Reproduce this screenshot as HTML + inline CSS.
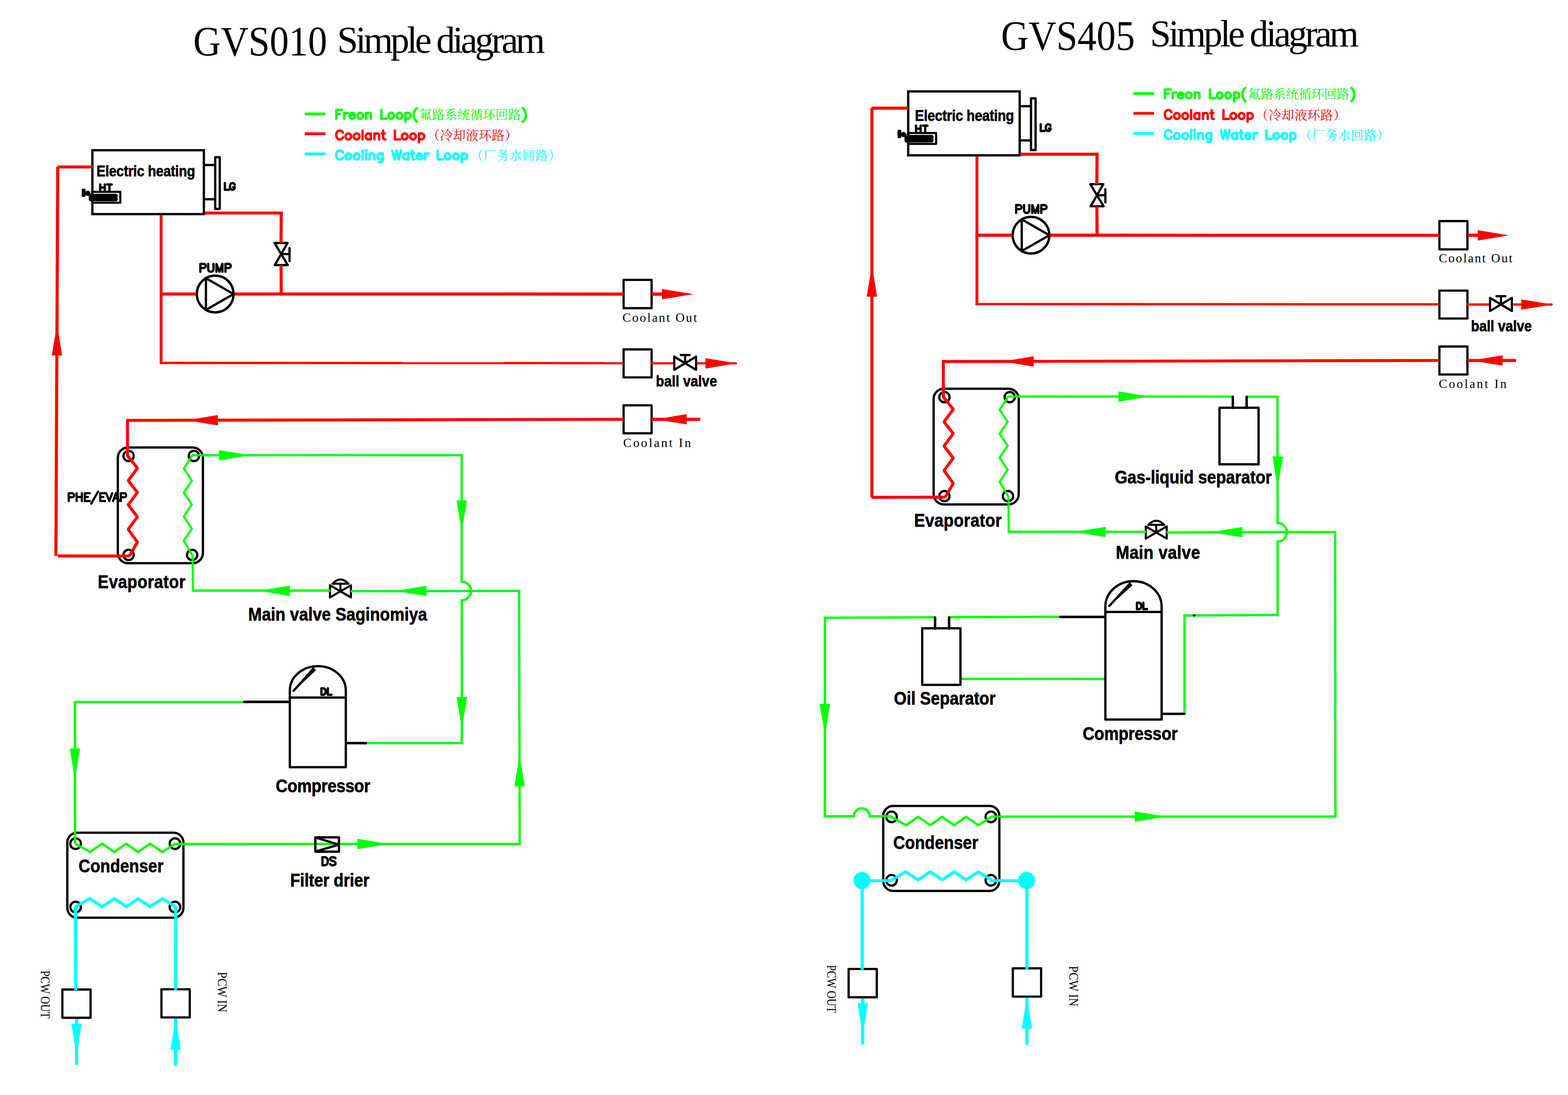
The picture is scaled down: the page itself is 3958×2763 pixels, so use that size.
<!DOCTYPE html>
<html><head><meta charset="utf-8"><title>GVS diagrams</title>
<style>
html,body{margin:0;padding:0;background:#fff}
svg{display:block}
.sb{font-family:"Liberation Sans",sans-serif;font-weight:bold;fill:#000;stroke:#000;stroke-width:0.9px;stroke-linejoin:round}
.sf{font-family:"Liberation Serif",serif;fill:#000}
.cj{font-family:"Liberation Serif","Noto Serif CJK SC",serif}
</style></head><body>
<svg width="3958" height="2763" viewBox="0 0 3958 2763">
<rect width="3958" height="2763" fill="#fff"/>
<defs>
<g id="cool"><rect x="233.2" y="379.1" width="281.4" height="161.2" rx="0" fill="none" stroke="#000" stroke-width="5.8" stroke-linejoin="miter"/>
<path d="M517,416.4 L542,416.4" fill="none" stroke="#000" stroke-width="5.8" stroke-linecap="butt" stroke-linejoin="miter"/>
<path d="M517,502.7 L542,502.7" fill="none" stroke="#000" stroke-width="5.8" stroke-linecap="butt" stroke-linejoin="miter"/>
<rect x="543.2" y="396.6" width="11.5" height="130.5" rx="0" fill="#fff" stroke="#000" stroke-width="5.8" stroke-linejoin="round"/>
<path d="M567.7,462.1 L567.7,478.9M567.7,478.9 L577.3,478.9M592.5,466.1 L591.7,464.5 L590.1,462.9 L588.5,462.1 L585.3,462.1 L583.7,462.9 L582.1,464.5 L581.3,466.1 L580.5,468.5 L580.5,472.5 L581.3,474.9 L582.1,476.5 L583.7,478.1 L585.3,478.9 L588.5,478.9 L590.1,478.1 L591.7,476.5 L592.5,474.9 L592.5,472.5M588.5,472.5 L592.5,472.5" fill="none" stroke="#000" stroke-width="5.8" stroke-linecap="round" stroke-linejoin="round"/>
<path d="M253.0,465.4 L253.0,482.0M264.5,465.4 L264.5,482.0M253.0,473.3 L264.5,473.3" fill="none" stroke="#000" stroke-width="5.8" stroke-linecap="round" stroke-linejoin="round"/>
<path d="M276.2,465.4 L276.2,482.0M270.7,465.4 L281.8,465.4" fill="none" stroke="#000" stroke-width="5.8" stroke-linecap="round" stroke-linejoin="round"/>
<rect x="232.6" y="484.1" width="71.1" height="27.4" rx="0" fill="none" stroke="#000" stroke-width="5.2" stroke-linejoin="round"/>
<rect x="224" y="489" width="73.5" height="10.5" rx="5" fill="#000"/><rect x="224" y="497.5" width="73.5" height="10.5" rx="5" fill="#000"/><rect x="224" y="491" width="20" height="14" rx="2" fill="#000"/>
<rect x="206.3" y="475.9" width="9.6" height="21" rx="3" fill="#000"/><circle cx="221.5" cy="487.7" r="6.6" fill="#000"/>
<circle cx="543.2" cy="741.9" r="46.3" fill="none" stroke="#000" stroke-width="6"/>
<path d="M519.8,701.9 V781.9 L589.5,741.9 Z" fill="none" stroke="#000" stroke-width="5.8" stroke-linecap="round" stroke-linejoin="round"/>
<path d="M505.8,665.9 L505.8,685.7M505.8,665.9 L514.3,665.9 L517.1,666.8 L518.1,667.7 L519.0,669.6 L519.0,672.5 L518.1,674.4 L517.1,675.3 L514.3,676.2 L505.8,676.2M525.6,665.9 L525.6,680.0 L526.6,682.9 L528.5,684.8 L531.3,685.7 L533.2,685.7 L536.0,684.8 L537.9,682.9 L538.9,680.0 L538.9,665.9M546.4,665.9 L546.4,685.7M546.4,665.9 L554.0,685.7M561.5,665.9 L554.0,685.7M561.5,665.9 L561.5,685.7M569.1,665.9 L569.1,685.7M569.1,665.9 L577.6,665.9 L580.4,666.8 L581.4,667.7 L582.3,669.6 L582.3,672.5 L581.4,674.4 L580.4,675.3 L577.6,676.2 L569.1,676.2" fill="none" stroke="#000" stroke-width="5.8" stroke-linecap="round" stroke-linejoin="round"/>
<rect x="1574.1" y="706.3" width="70.7" height="71.3" rx="0" fill="#fff" stroke="#000" stroke-width="5.6" stroke-linejoin="round"/>
<rect x="1574.1" y="881.6" width="70.7" height="70.6" rx="0" fill="#fff" stroke="#000" stroke-width="5.6" stroke-linejoin="round"/>
<rect x="1574.1" y="1022.8" width="70.7" height="70.6" rx="0" fill="#fff" stroke="#000" stroke-width="5.6" stroke-linejoin="round"/>
<rect x="297.4" y="1129.2" width="214.8" height="292" rx="26" fill="none" stroke="#000" stroke-width="5.8" stroke-linejoin="round"/>
<circle cx="324.6" cy="1150.5" r="13" fill="none" stroke="#000" stroke-width="5.6"/>
<circle cx="489.5" cy="1150.5" r="13" fill="none" stroke="#000" stroke-width="5.6"/>
<circle cx="324.6" cy="1400.3" r="13" fill="none" stroke="#000" stroke-width="5.6"/>
<circle cx="485" cy="1400.3" r="13" fill="none" stroke="#000" stroke-width="5.6"/>
<path d="M693,613.1 H725.8 L693.7,668.9 H726.4 Z M709.4,641 H730.9 M730.9,625.9 V658.9" fill="none" stroke="#000" stroke-width="5.6" stroke-linecap="round" stroke-linejoin="round"/>
<path d="M406.7,543.2 L406.7,918.5" fill="none" stroke="#ff0000" stroke-width="7.2" stroke-linecap="butt" stroke-linejoin="miter"/>
<path d="M403.2,741.9 L494.6,741.9" fill="none" stroke="#ff0000" stroke-width="7.8" stroke-linecap="butt" stroke-linejoin="miter"/>
<path d="M592,741.9 L1574,742" fill="none" stroke="#ff0000" stroke-width="7.8" stroke-linecap="butt" stroke-linejoin="miter"/>
<path d="M1645,742 L1700,742" fill="none" stroke="#ff0000" stroke-width="8.4" stroke-linecap="butt" stroke-linejoin="miter"/>
<polygon points="1750,742.3 1671,729.2 1671,755.4" fill="#ff0000"/>
<path d="M517.4,537.5 L713.8,537.5" fill="none" stroke="#ff0000" stroke-width="7.6" stroke-linecap="butt" stroke-linejoin="miter"/>
<path d="M710,534 L709.4,613" fill="none" stroke="#ff0000" stroke-width="7.8" stroke-linecap="butt" stroke-linejoin="miter"/>
<path d="M709.5,669 L710,745.6" fill="none" stroke="#ff0000" stroke-width="7.8" stroke-linecap="butt" stroke-linejoin="miter"/>
<path d="M403.2,915.7 L1574,916.4" fill="none" stroke="#ff0000" stroke-width="5.8" stroke-linecap="butt" stroke-linejoin="miter"/>
<path d="M1645,916.8 L1702,916.8" fill="none" stroke="#ff0000" stroke-width="5.6" stroke-linecap="round" stroke-linejoin="miter"/>
<path d="M1757,916.8 L1857.4,916.8" fill="none" stroke="#ff0000" stroke-width="5.6" stroke-linecap="round" stroke-linejoin="miter"/>
<polygon points="1859.7,916.8 1780.7,903.7 1780.7,929.9" fill="#ff0000"/>
<path d="M318.1,1060.7 L1574,1058" fill="none" stroke="#ff0000" stroke-width="7.4" stroke-linecap="butt" stroke-linejoin="miter"/>
<path d="M1645,1058 L1767.6,1058" fill="none" stroke="#ff0000" stroke-width="7.8" stroke-linecap="butt" stroke-linejoin="miter"/>
<polygon points="471,1060.4 550,1073.5 550,1047.3" fill="#ff0000"/>
<polygon points="1654.6,1058 1733.6,1071.1 1733.6,1044.9" fill="#ff0000"/>
<path d="M321.8,1057 L321.8,1150 L347,1181.2 L323.6,1212.7 L347,1242.4 L323.6,1273.8 L347,1304.2 L323.6,1335.6 L347,1368.1 L326.5,1403" fill="none" stroke="#ff0000" stroke-width="7.6" stroke-linecap="butt" stroke-linejoin="bevel"/>
<path d="M1701.9,900 V933.1 L1757,900 V933.1 Z M1729.5,916.6 V895.8 M1718.6,895.8 H1740.7" fill="none" stroke="#000" stroke-width="5.6" stroke-linecap="round" stroke-linejoin="round"/>
<path d="M512,1148.8 L486,1148.7 L464,1182.3 L484.3,1212.7 L464,1243 L484.3,1273 L464,1303.5 L484.3,1334.2 L464,1364.6 L486,1401.3 L487,1493" fill="none" stroke="#00ff00" stroke-width="5.3" stroke-linecap="butt" stroke-linejoin="miter"/>
<path d="M832.9,1476.8 V1507.4 L885.8,1476.8 V1507.4 Z M859.3,1491.9 V1473 M839.5,1472.8 H879.6 Q859.5,1451.6 839.5,1472.8 Z" fill="none" stroke="#000" stroke-width="5.3" stroke-linecap="round" stroke-linejoin="round"/>
<path d="M484.2,1490.2 L833.9,1490.3" fill="none" stroke="#00ff00" stroke-width="5.9" stroke-linecap="butt" stroke-linejoin="miter"/>
<polygon points="652.6,1490.5 731.5,1504 731.7,1477.8" fill="#00ff00"/></g>
<g id="cond"><rect x="169.9" y="2101.2" width="293.1" height="214.5" rx="25" fill="none" stroke="#000" stroke-width="5.8" stroke-linejoin="round"/>
<circle cx="190.8" cy="2128.8" r="13.4" fill="none" stroke="#000" stroke-width="5.6"/>
<circle cx="441.7" cy="2128.8" r="13.4" fill="none" stroke="#000" stroke-width="5.6"/>
<circle cx="190.8" cy="2288.8" r="13.4" fill="none" stroke="#000" stroke-width="5.6"/>
<circle cx="441.7" cy="2288.8" r="13.4" fill="none" stroke="#000" stroke-width="5.6"/>
<path d="M189.8,2128.8 L227.5,2149.8 L257.9,2128.8 L288.6,2149.8 L318.3,2128.8 L348.7,2149.8 L378.8,2128.8 L410.2,2149.8 L441.7,2128.8" fill="none" stroke="#00ff00" stroke-width="6" stroke-linecap="butt" stroke-linejoin="miter"/>
<path d="M189.8,2288.8 L226.5,2267.5 L257.9,2287.8 L288.6,2267.5 L319,2287.8 L348.7,2267.5 L378.8,2287.8 L410.2,2267.5 L444.1,2288.8" fill="none" stroke="#00ffff" stroke-width="7.6" stroke-linecap="butt" stroke-linejoin="miter"/></g>
<g id="leg"><path d="M769.6,287.5 L821.7,287.5" fill="none" stroke="#00ff00" stroke-width="7" stroke-linecap="butt" stroke-linejoin="miter"/>
<path d="M769.6,337.5 L821.7,337.5" fill="none" stroke="#ff0000" stroke-width="7" stroke-linecap="butt" stroke-linejoin="miter"/>
<path d="M769.6,388.2 L821.7,388.2" fill="none" stroke="#00ffff" stroke-width="7" stroke-linecap="butt" stroke-linejoin="miter"/>
<path d="M849.0,277.3 L849.0,299.6M849.0,277.3 L863.4,277.3M849.0,287.9 L857.8,287.9M868.9,284.7 L868.9,299.6M868.9,291.1 L870.0,287.9 L872.2,285.8 L874.4,284.7 L877.7,284.7M882.1,291.1 L895.4,291.1 L895.4,289.0 L894.3,286.9 L893.2,285.8 L891.0,284.7 L887.7,284.7 L885.4,285.8 L883.2,287.9 L882.1,291.1 L882.1,293.2 L883.2,296.4 L885.4,298.5 L887.7,299.6 L891.0,299.6 L893.2,298.5 L895.4,296.4M907.5,284.7 L905.3,285.8 L903.1,287.9 L902.0,291.1 L902.0,293.2 L903.1,296.4 L905.3,298.5 L907.5,299.6 L910.8,299.6 L913.0,298.5 L915.3,296.4 L916.4,293.2 L916.4,291.1 L915.3,287.9 L913.0,285.8 L910.8,284.7 L907.5,284.7M924.1,284.7 L924.1,299.6M924.1,289.0 L927.4,285.8 L929.6,284.7 L932.9,284.7 L935.1,285.8 L936.2,289.0 L936.2,299.6M962.7,277.3 L962.7,299.6M962.7,299.6 L976.0,299.6M985.9,284.7 L983.7,285.8 L981.5,287.9 L980.4,291.1 L980.4,293.2 L981.5,296.4 L983.7,298.5 L985.9,299.6 L989.2,299.6 L991.4,298.5 L993.6,296.4 L994.7,293.2 L994.7,291.1 L993.6,287.9 L991.4,285.8 L989.2,284.7 L985.9,284.7M1006.9,284.7 L1004.7,285.8 L1002.5,287.9 L1001.4,291.1 L1001.4,293.2 L1002.5,296.4 L1004.7,298.5 L1006.9,299.6 L1010.2,299.6 L1012.4,298.5 L1014.6,296.4 L1015.7,293.2 L1015.7,291.1 L1014.6,287.9 L1012.4,285.8 L1010.2,284.7 L1006.9,284.7M1023.4,284.7 L1023.4,307.0M1023.4,287.9 L1025.7,285.8 L1027.9,284.7 L1031.2,284.7 L1033.4,285.8 L1035.6,287.9 L1036.7,291.1 L1036.7,293.2 L1035.6,296.4 L1033.4,298.5 L1031.2,299.6 L1027.9,299.6 L1025.7,298.5 L1023.4,296.4M1052.2,273.1 L1049.9,275.2 L1047.7,278.4 L1045.5,282.6 L1044.4,287.9 L1044.4,292.2 L1045.5,297.5 L1047.7,301.7 L1049.9,304.9 L1052.2,307.0" fill="none" stroke="#00ff00" stroke-width="6" stroke-linecap="round" stroke-linejoin="round"/>
<text x="1058.5" y="300.6" font-size="32" textLength="256" lengthAdjust="spacing" fill="#00ff00" class="cj">氟路系统循环回路</text>
<path d="M1319.7,273.1 L1321.9,275.2 L1324.1,278.4 L1326.3,282.6 L1327.4,287.9 L1327.4,292.2 L1326.3,297.5 L1324.1,301.7 L1321.9,304.9 L1319.7,307.0" fill="none" stroke="#00ff00" stroke-width="6" stroke-linecap="round" stroke-linejoin="round"/>
<path d="M865.5,334.7 L864.4,332.6 L862.2,330.5 L860.0,329.4 L855.5,329.4 L853.3,330.5 L851.1,332.6 L850.0,334.7 L848.9,337.9 L848.9,343.2 L850.0,346.4 L851.1,348.5 L853.3,350.6 L855.5,351.7 L860.0,351.7 L862.2,350.6 L864.4,348.5 L865.5,346.4M877.6,336.8 L875.4,337.9 L873.2,340.0 L872.1,343.2 L872.1,345.3 L873.2,348.5 L875.4,350.6 L877.6,351.7 L880.9,351.7 L883.1,350.6 L885.3,348.5 L886.4,345.3 L886.4,343.2 L885.3,340.0 L883.1,337.9 L880.9,336.8 L877.6,336.8M898.6,336.8 L896.4,337.9 L894.2,340.0 L893.1,343.2 L893.1,345.3 L894.2,348.5 L896.4,350.6 L898.6,351.7 L901.9,351.7 L904.1,350.6 L906.3,348.5 L907.4,345.3 L907.4,343.2 L906.3,340.0 L904.1,337.9 L901.9,336.8 L898.6,336.8M915.2,329.4 L915.2,351.7M936.1,336.8 L936.1,351.7M936.1,340.0 L933.9,337.9 L931.7,336.8 L928.4,336.8 L926.2,337.9 L924.0,340.0 L922.9,343.2 L922.9,345.3 L924.0,348.5 L926.2,350.6 L928.4,351.7 L931.7,351.7 L933.9,350.6 L936.1,348.5M945.0,336.8 L945.0,351.7M945.0,341.1 L948.3,337.9 L950.5,336.8 L953.8,336.8 L956.0,337.9 L957.1,341.1 L957.1,351.7M967.0,329.4 L967.0,347.5 L968.1,350.6 L970.4,351.7 L972.6,351.7M963.7,336.8 L971.5,336.8M996.8,329.4 L996.8,351.7M996.8,351.7 L1010.1,351.7M1020.0,336.8 L1017.8,337.9 L1015.6,340.0 L1014.5,343.2 L1014.5,345.3 L1015.6,348.5 L1017.8,350.6 L1020.0,351.7 L1023.3,351.7 L1025.6,350.6 L1027.8,348.5 L1028.9,345.3 L1028.9,343.2 L1027.8,340.0 L1025.6,337.9 L1023.3,336.8 L1020.0,336.8M1041.0,336.8 L1038.8,337.9 L1036.6,340.0 L1035.5,343.2 L1035.5,345.3 L1036.6,348.5 L1038.8,350.6 L1041.0,351.7 L1044.3,351.7 L1046.5,350.6 L1048.7,348.5 L1049.8,345.3 L1049.8,343.2 L1048.7,340.0 L1046.5,337.9 L1044.3,336.8 L1041.0,336.8M1057.6,336.8 L1057.6,359.1M1057.6,340.0 L1059.8,337.9 L1062.0,336.8 L1065.3,336.8 L1067.5,337.9 L1069.7,340.0 L1070.8,343.2 L1070.8,345.3 L1069.7,348.5 L1067.5,350.6 L1065.3,351.7 L1062.0,351.7 L1059.8,350.6 L1057.6,348.5" fill="none" stroke="#ff0000" stroke-width="6" stroke-linecap="round" stroke-linejoin="round"/>
<text x="1078" y="353.2" font-size="32" textLength="227.9" lengthAdjust="spacing" fill="#ff0000" class="cj">（冷却液环路）</text>
<path d="M865.5,385.2 L864.4,383.1 L862.2,381.0 L860.0,379.9 L855.5,379.9 L853.3,381.0 L851.1,383.1 L850.0,385.2 L848.9,388.4 L848.9,393.7 L850.0,396.9 L851.1,399.0 L853.3,401.1 L855.5,402.2 L860.0,402.2 L862.2,401.1 L864.4,399.0 L865.5,396.9M877.6,387.3 L875.4,388.4 L873.2,390.5 L872.1,393.7 L872.1,395.8 L873.2,399.0 L875.4,401.1 L877.6,402.2 L880.9,402.2 L883.1,401.1 L885.3,399.0 L886.4,395.8 L886.4,393.7 L885.3,390.5 L883.1,388.4 L880.9,387.3 L877.6,387.3M898.6,387.3 L896.4,388.4 L894.2,390.5 L893.1,393.7 L893.1,395.8 L894.2,399.0 L896.4,401.1 L898.6,402.2 L901.9,402.2 L904.1,401.1 L906.3,399.0 L907.4,395.8 L907.4,393.7 L906.3,390.5 L904.1,388.4 L901.9,387.3 L898.6,387.3M915.2,379.9 L915.2,402.2M922.9,379.9 L924.0,381.0 L925.1,379.9 L924.0,378.8 L922.9,379.9M924.0,387.3 L924.0,402.2M932.8,387.3 L932.8,402.2M932.8,391.6 L936.1,388.4 L938.3,387.3 L941.6,387.3 L943.9,388.4 L945.0,391.6 L945.0,402.2M965.9,387.3 L965.9,404.3 L964.8,407.5 L963.7,408.6 L961.5,409.6 L958.2,409.6 L956.0,408.6M965.9,390.5 L963.7,388.4 L961.5,387.3 L958.2,387.3 L956.0,388.4 L953.8,390.5 L952.7,393.7 L952.7,395.8 L953.8,399.0 L956.0,401.1 L958.2,402.2 L961.5,402.2 L963.7,401.1 L965.9,399.0M990.2,379.9 L995.7,402.2M1001.3,379.9 L995.7,402.2M1001.3,379.9 L1006.8,402.2M1012.3,379.9 L1006.8,402.2M1031.1,387.3 L1031.1,402.2M1031.1,390.5 L1028.9,388.4 L1026.7,387.3 L1023.3,387.3 L1021.1,388.4 L1018.9,390.5 L1017.8,393.7 L1017.8,395.8 L1018.9,399.0 L1021.1,401.1 L1023.3,402.2 L1026.7,402.2 L1028.9,401.1 L1031.1,399.0M1041.0,379.9 L1041.0,398.0 L1042.1,401.1 L1044.3,402.2 L1046.5,402.2M1037.7,387.3 L1045.4,387.3M1052.0,393.7 L1065.3,393.7 L1065.3,391.6 L1064.2,389.5 L1063.1,388.4 L1060.9,387.3 L1057.6,387.3 L1055.4,388.4 L1053.2,390.5 L1052.0,393.7 L1052.0,395.8 L1053.2,399.0 L1055.4,401.1 L1057.6,402.2 L1060.9,402.2 L1063.1,401.1 L1065.3,399.0M1073.0,387.3 L1073.0,402.2M1073.0,393.7 L1074.1,390.5 L1076.3,388.4 L1078.5,387.3 L1081.9,387.3M1105.0,379.9 L1105.0,402.2M1105.0,402.2 L1118.3,402.2M1128.2,387.3 L1126.0,388.4 L1123.8,390.5 L1122.7,393.7 L1122.7,395.8 L1123.8,399.0 L1126.0,401.1 L1128.2,402.2 L1131.5,402.2 L1133.7,401.1 L1136.0,399.0 L1137.1,395.8 L1137.1,393.7 L1136.0,390.5 L1133.7,388.4 L1131.5,387.3 L1128.2,387.3M1149.2,387.3 L1147.0,388.4 L1144.8,390.5 L1143.7,393.7 L1143.7,395.8 L1144.8,399.0 L1147.0,401.1 L1149.2,402.2 L1152.5,402.2 L1154.7,401.1 L1156.9,399.0 L1158.0,395.8 L1158.0,393.7 L1156.9,390.5 L1154.7,388.4 L1152.5,387.3 L1149.2,387.3M1165.8,387.3 L1165.8,409.6M1165.8,390.5 L1168.0,388.4 L1170.2,387.3 L1173.5,387.3 L1175.7,388.4 L1177.9,390.5 L1179.0,393.7 L1179.0,395.8 L1177.9,399.0 L1175.7,401.1 L1173.5,402.2 L1170.2,402.2 L1168.0,401.1 L1165.8,399.0" fill="none" stroke="#00ffff" stroke-width="6" stroke-linecap="round" stroke-linejoin="round"/>
<text x="1187.8" y="404" font-size="32" textLength="228.2" lengthAdjust="spacing" fill="#00ffff" class="cj">（厂务水回路）</text></g>
</defs>
<use href="#cool"/>
<use href="#leg"/>
<use href="#cond"/>
<text x="487.7" y="140" font-size="105" textLength="338" lengthAdjust="spacingAndGlyphs" class="sf">GVS010</text>
<text x="851" y="133" font-size="95" textLength="525" lengthAdjust="spacing" class="sf">Simple diagram</text>
<text transform="translate(243.5,445.3) scale(0.9,1)" font-size="38.2" textLength="276.9" lengthAdjust="spacing" class="sb">Electric heating</text>
<text transform="translate(1655.6,974.7) scale(0.9,1)" font-size="38.2" textLength="171.6" lengthAdjust="spacing" class="sb">ball valve</text>
<text x="1571.3" y="811.6" font-size="32" textLength="188" lengthAdjust="spacing" class="sf">Coolant Out</text>
<text x="1572.9" y="1127.9" font-size="32" textLength="171" lengthAdjust="spacing" class="sf">Coolant In</text>
<path d="M145.4,421.2 L234,421.2" fill="none" stroke="#ff0000" stroke-width="7.5" stroke-linecap="butt" stroke-linejoin="miter"/>
<path d="M145.8,421 L141.1,1402.8" fill="none" stroke="#ff0000" stroke-width="7.8" stroke-linecap="butt" stroke-linejoin="miter"/>
<path d="M145.9,1402.8 L327,1403" fill="none" stroke="#ff0000" stroke-width="7.6" stroke-linecap="butt" stroke-linejoin="miter"/>
<polygon points="144.3,818 130.5,896.9 156.7,897.1" fill="#ff0000"/>
<path d="M173.5,1244.4 L173.5,1264.3M173.5,1244.4 L182.0,1244.4 L184.9,1245.4 L185.8,1246.3 L186.7,1248.2 L186.7,1251.0 L185.8,1252.9 L184.9,1253.9 L182.0,1254.8 L173.5,1254.8M193.4,1244.4 L193.4,1264.3M206.6,1244.4 L206.6,1264.3M193.4,1253.9 L206.6,1253.9M214.2,1244.4 L214.2,1264.3M214.2,1244.4 L226.5,1244.4M214.2,1253.9 L221.8,1253.9M214.2,1264.3 L226.5,1264.3M247.4,1240.6 L230.3,1270.9M253.0,1244.4 L253.0,1264.3M253.0,1244.4 L265.3,1244.4M253.0,1253.9 L260.6,1253.9M253.0,1264.3 L265.3,1264.3M268.2,1244.4 L275.8,1264.3M283.3,1244.4 L275.8,1264.3M292.8,1244.4 L285.2,1264.3M292.8,1244.4 L300.4,1264.3M288.1,1257.7 L297.5,1257.7M305.1,1244.4 L305.1,1264.3M305.1,1244.4 L313.6,1244.4 L316.5,1245.4 L317.4,1246.3 L318.4,1248.2 L318.4,1251.0 L317.4,1252.9 L316.5,1253.9 L313.6,1254.8 L305.1,1254.8" fill="none" stroke="#000" stroke-width="5.5" stroke-linecap="round" stroke-linejoin="round"/>
<text transform="translate(246.8,1484.3) scale(0.9,1)" font-size="45.7" textLength="245.9" lengthAdjust="spacing" class="sb">Evaporator</text>
<text transform="translate(626.6,1565.6) scale(0.9,1)" font-size="45.7" textLength="501.8" lengthAdjust="spacing" class="sb">Main valve Saginomiya</text>
<path d="M510,1148.8 L1165.5,1148.4 L1165.5,1468" fill="none" stroke="#00ff00" stroke-width="5.9" stroke-linecap="butt" stroke-linejoin="miter"/>
<path d="M1165.5,1465 V1467.8 A23.5,23.5 0 0 1 1165.5,1514.8 V1520" fill="none" stroke="#00ff00" stroke-width="5.9" stroke-linecap="butt" stroke-linejoin="miter"/>
<path d="M1165.7,1515 L1165.8,1878" fill="none" stroke="#00ff00" stroke-width="5.9" stroke-linecap="butt" stroke-linejoin="miter"/>
<path d="M1168.7,1875.1 L925,1875.1" fill="none" stroke="#00ff00" stroke-width="5.9" stroke-linecap="butt" stroke-linejoin="miter"/>
<path d="M885,1491.9 L1313.4,1491" fill="none" stroke="#00ff00" stroke-width="5.9" stroke-linecap="butt" stroke-linejoin="miter"/>
<path d="M1310.5,1488 L1311.8,2132.5" fill="none" stroke="#00ff00" stroke-width="5.9" stroke-linecap="butt" stroke-linejoin="miter"/>
<path d="M1314.7,2129.6 L441.7,2129.7" fill="none" stroke="#00ff00" stroke-width="5.9" stroke-linecap="butt" stroke-linejoin="miter"/>
<path d="M189,1771.5 L189.3,2129" fill="none" stroke="#00ff00" stroke-width="5.9" stroke-linecap="butt" stroke-linejoin="miter"/>
<path d="M186.1,1771.5 L617,1771.5" fill="none" stroke="#00ff00" stroke-width="5.3" stroke-linecap="butt" stroke-linejoin="miter"/>
<polygon points="632,1148.8 553,1135.7 553,1161.9" fill="#00ff00"/>
<polygon points="1165.5,1341.4 1178.6,1262.4 1152.4,1262.4" fill="#00ff00"/>
<polygon points="997.6,1491 1076.6,1504.1 1076.6,1477.9" fill="#00ff00"/>
<polygon points="1165.8,1837.8 1178.9,1758.8 1152.7,1758.8" fill="#00ff00"/>
<polygon points="1311.4,1905.1 1298.6,1984.1 1324.8,1984.1" fill="#00ff00"/>
<polygon points="981.2,2129.6 902.2,2116.5 902.2,2142.7" fill="#00ff00"/>
<polygon points="189.1,1967.4 202.1,1888.4 175.9,1888.4" fill="#00ff00"/>
<path d="M731.6,1935.8 V1742 A70.6,61 0 0 1 872.9,1742 V1935.8 Z" fill="none" stroke="#000" stroke-width="5.8" stroke-linecap="butt" stroke-linejoin="round"/>
<path d="M731.6,1760.2 L872.9,1760.2" fill="none" stroke="#000" stroke-width="5.8" stroke-linecap="butt" stroke-linejoin="miter"/>
<path d="M740.8,1743.3 L791.5,1687.5" fill="none" stroke="#000" stroke-width="5.6" stroke-linecap="round" stroke-linejoin="miter"/>
<polygon points="753.9,1724.7 789.8,1684 797.7,1691.1 758.1,1728.4" fill="#000"/>
<path d="M811.3,1736.9 L811.3,1753.1M811.3,1736.9 L816.7,1736.9 L819.0,1737.7 L820.5,1739.2 L821.3,1740.8 L822.1,1743.1 L822.1,1746.9 L821.3,1749.2 L820.5,1750.8 L819.0,1752.3 L816.7,1753.1 L811.3,1753.1M827.5,1736.9 L827.5,1753.1M827.5,1753.1 L836.7,1753.1" fill="none" stroke="#000" stroke-width="5.8" stroke-linecap="round" stroke-linejoin="round"/>
<path d="M616.8,1771 L729,1771" fill="none" stroke="#000" stroke-width="6.4" stroke-linecap="round" stroke-linejoin="miter"/>
<path d="M875.5,1875.1 L926,1875.1" fill="none" stroke="#000" stroke-width="6.2" stroke-linecap="butt" stroke-linejoin="miter"/>
<text transform="translate(696.1,1999.3) scale(0.9,1)" font-size="45.7" textLength="265.3" lengthAdjust="spacing" class="sb">Compressor</text>
<text transform="translate(198.3,2201) scale(0.9,1)" font-size="45.7" textLength="238.5" lengthAdjust="spacing" class="sb">Condenser</text>
<path d="M796,2112.9 H855.6 V2149 H796 Z M796,2113 L855.4,2131.2 L796,2148.9" fill="none" stroke="#000" stroke-width="5.8" stroke-linecap="round" stroke-linejoin="round"/>
<path d="M813.9,2162.9 L813.9,2183.3M813.9,2162.9 L820.7,2162.9 L823.6,2163.9 L825.5,2165.8 L826.5,2167.8 L827.5,2170.7 L827.5,2175.5 L826.5,2178.5 L825.5,2180.4 L823.6,2182.3 L820.7,2183.3 L813.9,2183.3M846.9,2165.8 L844.9,2163.9 L842.0,2162.9 L838.1,2162.9 L835.2,2163.9 L833.3,2165.8 L833.3,2167.8 L834.2,2169.7 L835.2,2170.7 L837.2,2171.7 L843.0,2173.6 L844.9,2174.6 L845.9,2175.5 L846.9,2177.5 L846.9,2180.4 L844.9,2182.3 L842.0,2183.3 L838.1,2183.3 L835.2,2182.3 L833.3,2180.4" fill="none" stroke="#000" stroke-width="5.8" stroke-linecap="round" stroke-linejoin="round"/>
<text transform="translate(732.5,2236.9) scale(0.9,1)" font-size="45.7" textLength="222.3" lengthAdjust="spacing" class="sb">Filter drier</text>
<path d="M190.3,2288 L191.2,2497" fill="none" stroke="#00ffff" stroke-width="8" stroke-linecap="butt" stroke-linejoin="miter"/>
<path d="M443.6,2288 L443.3,2496" fill="none" stroke="#00ffff" stroke-width="8" stroke-linecap="butt" stroke-linejoin="miter"/>
<path d="M193.3,2568 L193.3,2687" fill="none" stroke="#00ffff" stroke-width="8" stroke-linecap="butt" stroke-linejoin="miter"/>
<path d="M443.2,2568 L443.2,2689" fill="none" stroke="#00ffff" stroke-width="8" stroke-linecap="butt" stroke-linejoin="miter"/>
<polygon points="193.4,2662 206.2,2583 180,2583" fill="#00ffff"/>
<polygon points="443.2,2570 430.1,2649 456.3,2649" fill="#00ffff"/>
<rect x="157.4" y="2496.9" width="71.2" height="71.2" rx="0" fill="#fff" stroke="#000" stroke-width="5.6" stroke-linejoin="round"/>
<rect x="407.5" y="2496.3" width="71.5" height="70.9" rx="0" fill="#fff" stroke="#000" stroke-width="5.6" stroke-linejoin="round"/>
<path d="M191.2,2490 L191.2,2499" fill="none" stroke="#00ffff" stroke-width="8" stroke-linecap="butt" stroke-linejoin="miter"/>
<path d="M443.3,2490 L443.3,2498.5" fill="none" stroke="#00ffff" stroke-width="8" stroke-linecap="butt" stroke-linejoin="miter"/>
<text transform="translate(103.4,2449.6) rotate(90)" x="-0.7" y="0" font-size="33.4" textLength="121" lengthAdjust="spacingAndGlyphs" class="sf">PCW OUT</text>
<text transform="translate(550.3,2453) rotate(90)" x="-0.7" y="0" font-size="33.4" textLength="102" lengthAdjust="spacingAndGlyphs" class="sf">PCW IN</text>
<use href="#cool" transform="translate(2059.3,-148.4)"/>
<use href="#leg" transform="translate(2091.5,-51.5)"/>
<use href="#cond" transform="translate(2059.6,-67.6)"/>
<path d="M2200.1,272.9 L2293.2,272.9" fill="none" stroke="#ff0000" stroke-width="7.7" stroke-linecap="butt" stroke-linejoin="miter"/>
<path d="M2200.9,272.4 L2200.9,1254.8" fill="none" stroke="#ff0000" stroke-width="7.8" stroke-linecap="butt" stroke-linejoin="miter"/>
<path d="M2200,1254.9 L2386.3,1254.6" fill="none" stroke="#ff0000" stroke-width="7.7" stroke-linecap="butt" stroke-linejoin="miter"/>
<polygon points="2200.9,669.4 2187.8,748.4 2214,748.4" fill="#ff0000"/>
<text x="2526.7" y="125.5" font-size="105" textLength="338" lengthAdjust="spacingAndGlyphs" class="sf">GVS405</text>
<text x="2903" y="117.4" font-size="95" textLength="527" lengthAdjust="spacing" class="sf">Simple diagram</text>
<text transform="translate(2309.5,304.8) scale(0.9,1)" font-size="38.2" textLength="278.2" lengthAdjust="spacing" class="sb">Electric heating</text>
<text transform="translate(3713.1,835.5) scale(0.9,1)" font-size="38.2" textLength="170.7" lengthAdjust="spacing" class="sb">ball valve</text>
<text x="3631.7" y="662.3" font-size="32" textLength="186" lengthAdjust="spacing" class="sf">Coolant Out</text>
<text x="3631.7" y="979" font-size="32" textLength="171" lengthAdjust="spacing" class="sf">Coolant In</text>
<text transform="translate(2307.6,1329.3) scale(0.9,1)" font-size="45.7" textLength="245.4" lengthAdjust="spacing" class="sb">Evaporator</text>
<text transform="translate(2814,1220) scale(0.9,1)" font-size="45.7" textLength="440.2" lengthAdjust="spacing" class="sb">Gas-liquid separator</text>
<text transform="translate(2816.4,1410.3) scale(0.9,1)" font-size="45.7" textLength="236.6" lengthAdjust="spacing" class="sb">Main valve</text>
<text transform="translate(2256.6,1778.2) scale(0.9,1)" font-size="45.7" textLength="285" lengthAdjust="spacing" class="sb">Oil Separator</text>
<text transform="translate(2732.9,1867.1) scale(0.9,1)" font-size="45.7" textLength="266.5" lengthAdjust="spacing" class="sb">Compressor</text>
<text transform="translate(2254.7,2141.7) scale(0.9,1)" font-size="45.7" textLength="238.6" lengthAdjust="spacing" class="sb">Condenser</text>
<path d="M2569,1000.4 L3112,1000.7" fill="none" stroke="#00ff00" stroke-width="5.9" stroke-linecap="butt" stroke-linejoin="miter"/>
<polygon points="2902.3,1000.6 2823.3,987.5 2823.3,1013.7" fill="#00ff00"/>
<path d="M3146.8,1001 L3227.5,1001" fill="none" stroke="#00ff00" stroke-width="5.9" stroke-linecap="butt" stroke-linejoin="miter"/>
<path d="M3224.5,998 L3224.8,1320" fill="none" stroke="#00ff00" stroke-width="5.9" stroke-linecap="butt" stroke-linejoin="miter"/>
<path d="M3224.8,1317 V1319.5 A23.6,23.6 0 0 1 3224.8,1366.7 V1372" fill="none" stroke="#00ff00" stroke-width="5.9" stroke-linecap="butt" stroke-linejoin="miter"/>
<path d="M3225,1366.7 L3225,1555.4" fill="none" stroke="#00ff00" stroke-width="5.9" stroke-linecap="butt" stroke-linejoin="miter"/>
<path d="M3228,1551.6 L2987,1553.2" fill="none" stroke="#00ff00" stroke-width="5.9" stroke-linecap="butt" stroke-linejoin="miter"/>
<path d="M2990,1550.3 L2990,1802" fill="none" stroke="#00ff00" stroke-width="5.9" stroke-linecap="butt" stroke-linejoin="miter"/>
<polygon points="3224.9,1230.8 3238.6,1151.9 3212.4,1151.7" fill="#00ff00"/>
<path d="M2944.3,1343.5 L3373.2,1342.6" fill="none" stroke="#00ff00" stroke-width="5.9" stroke-linecap="butt" stroke-linejoin="miter"/>
<polygon points="3057,1342.8 3136,1355.9 3136,1329.7" fill="#00ff00"/>
<path d="M3370.3,1339.7 L3371,2063.5" fill="none" stroke="#00ff00" stroke-width="5.9" stroke-linecap="butt" stroke-linejoin="miter"/>
<path d="M3374,2060.5 L2501,2060.6" fill="none" stroke="#00ff00" stroke-width="5.9" stroke-linecap="butt" stroke-linejoin="miter"/>
<polygon points="2943.6,2060.5 2864.6,2047.4 2864.6,2073.6" fill="#00ff00"/>
<path d="M2360,1557.5 L2079.4,1558.8" fill="none" stroke="#00ff00" stroke-width="5.9" stroke-linecap="butt" stroke-linejoin="miter"/>
<path d="M2082.3,1556 L2082.3,2062.6" fill="none" stroke="#00ff00" stroke-width="5.9" stroke-linecap="butt" stroke-linejoin="miter"/>
<polygon points="2082.5,1855 2095.1,1775.9 2068.9,1776.1" fill="#00ff00"/>
<path d="M2079.4,2059.7 H2155.4 A20,20 0 0 1 2195.4,2059.7 H2251" fill="none" stroke="#00ff00" stroke-width="5.9" stroke-linecap="butt" stroke-linejoin="miter"/>
<path d="M2395.8,1557.2 L2678,1556.4" fill="none" stroke="#00ff00" stroke-width="5.9" stroke-linecap="butt" stroke-linejoin="miter"/>
<path d="M2425,1713 L2789,1713.2" fill="none" stroke="#00ff00" stroke-width="5.9" stroke-linecap="butt" stroke-linejoin="miter"/>
<path d="M3111.9,1001.3 L3111.9,1029" fill="none" stroke="#000" stroke-width="6.2" stroke-linecap="round" stroke-linejoin="miter"/>
<path d="M3146.8,1001.3 L3146.8,1029" fill="none" stroke="#000" stroke-width="6.2" stroke-linecap="round" stroke-linejoin="miter"/>
<rect x="3078.3" y="1028.8" width="98.6" height="142.9" rx="0" fill="none" stroke="#000" stroke-width="5.8" stroke-linejoin="round"/>
<path d="M2360.4,1558.2 L2360.4,1586" fill="none" stroke="#000" stroke-width="6.2" stroke-linecap="round" stroke-linejoin="miter"/>
<path d="M2395.8,1558.2 L2395.8,1586" fill="none" stroke="#000" stroke-width="6.2" stroke-linecap="round" stroke-linejoin="miter"/>
<rect x="2327.9" y="1585.4" width="96.5" height="142.7" rx="0" fill="none" stroke="#000" stroke-width="5.8" stroke-linejoin="round"/>
<path d="M2790.2,1815.6 V1530.5 A71,64 0 0 1 2932.2,1530.5 V1815.6 Z" fill="none" stroke="#000" stroke-width="5.8" stroke-linecap="butt" stroke-linejoin="round"/>
<path d="M2790.2,1544.1 L2932.2,1544.1" fill="none" stroke="#000" stroke-width="5.8" stroke-linecap="butt" stroke-linejoin="miter"/>
<path d="M2800,1529 L2852.5,1473" fill="none" stroke="#000" stroke-width="5.6" stroke-linecap="round" stroke-linejoin="miter"/>
<polygon points="2813.7,1510.3 2850.9,1469.4 2858.6,1476.7 2817.8,1514.1" fill="#000"/>
<path d="M2869.9,1520.8 L2869.9,1537.0M2869.9,1520.8 L2875.3,1520.8 L2877.6,1521.6 L2879.1,1523.1 L2879.9,1524.7 L2880.7,1527.0 L2880.7,1530.8 L2879.9,1533.2 L2879.1,1534.7 L2877.6,1536.2 L2875.3,1537.0 L2869.9,1537.0M2886.1,1520.8 L2886.1,1537.0M2886.1,1537.0 L2895.3,1537.0" fill="none" stroke="#000" stroke-width="5.8" stroke-linecap="round" stroke-linejoin="round"/>
<path d="M2677,1556.6 L2788,1556.6" fill="none" stroke="#000" stroke-width="6.4" stroke-linecap="round" stroke-linejoin="miter"/>
<path d="M2934,1801.2 L2990,1801.2" fill="none" stroke="#000" stroke-width="6" stroke-linecap="round" stroke-linejoin="miter"/>
<circle cx="3014.4" cy="1552.7" r="3.3" fill="#000"/>
<path d="M2175.8,2222.3 L2252,2222.3" fill="none" stroke="#00ffff" stroke-width="7.6" stroke-linecap="butt" stroke-linejoin="miter"/>
<path d="M2499,2222.3 L2591.5,2222.3" fill="none" stroke="#00ffff" stroke-width="7.6" stroke-linecap="butt" stroke-linejoin="miter"/>
<circle cx="2175.8" cy="2222" r="21.7" fill="#00ffff"/><circle cx="2591.5" cy="2222" r="21.7" fill="#00ffff"/>
<path d="M2176.3,2222 L2176.3,2445" fill="none" stroke="#00ffff" stroke-width="8" stroke-linecap="butt" stroke-linejoin="miter"/>
<path d="M2592,2222 L2592,2443.5" fill="none" stroke="#00ffff" stroke-width="8" stroke-linecap="butt" stroke-linejoin="miter"/>
<path d="M2177.8,2516 L2177.8,2635.3" fill="none" stroke="#00ffff" stroke-width="8" stroke-linecap="butt" stroke-linejoin="miter"/>
<path d="M2592,2515 L2592,2636.2" fill="none" stroke="#00ffff" stroke-width="8" stroke-linecap="butt" stroke-linejoin="miter"/>
<polygon points="2177.8,2610.5 2190.9,2531.5 2164.7,2531.5" fill="#00ffff"/>
<polygon points="2592,2517 2578.9,2596 2605.1,2596" fill="#00ffff"/>
<rect x="2142.1" y="2445" width="71.1" height="71.4" rx="0" fill="#fff" stroke="#000" stroke-width="5.6" stroke-linejoin="round"/>
<rect x="2556.6" y="2443.4" width="71.4" height="71.4" rx="0" fill="#fff" stroke="#000" stroke-width="5.6" stroke-linejoin="round"/>
<path d="M2176.3,2438 L2176.3,2447.2" fill="none" stroke="#00ffff" stroke-width="8" stroke-linecap="butt" stroke-linejoin="miter"/>
<path d="M2592,2437 L2592,2445.6" fill="none" stroke="#00ffff" stroke-width="8" stroke-linecap="butt" stroke-linejoin="miter"/>
<text transform="translate(2088,2435.4) rotate(90)" x="-0.7" y="0" font-size="33.4" textLength="121" lengthAdjust="spacingAndGlyphs" class="sf">PCW OUT</text>
<text transform="translate(2699.4,2438) rotate(90)" x="-0.7" y="0" font-size="33.4" textLength="102" lengthAdjust="spacingAndGlyphs" class="sf">PCW IN</text>
</svg></body></html>
